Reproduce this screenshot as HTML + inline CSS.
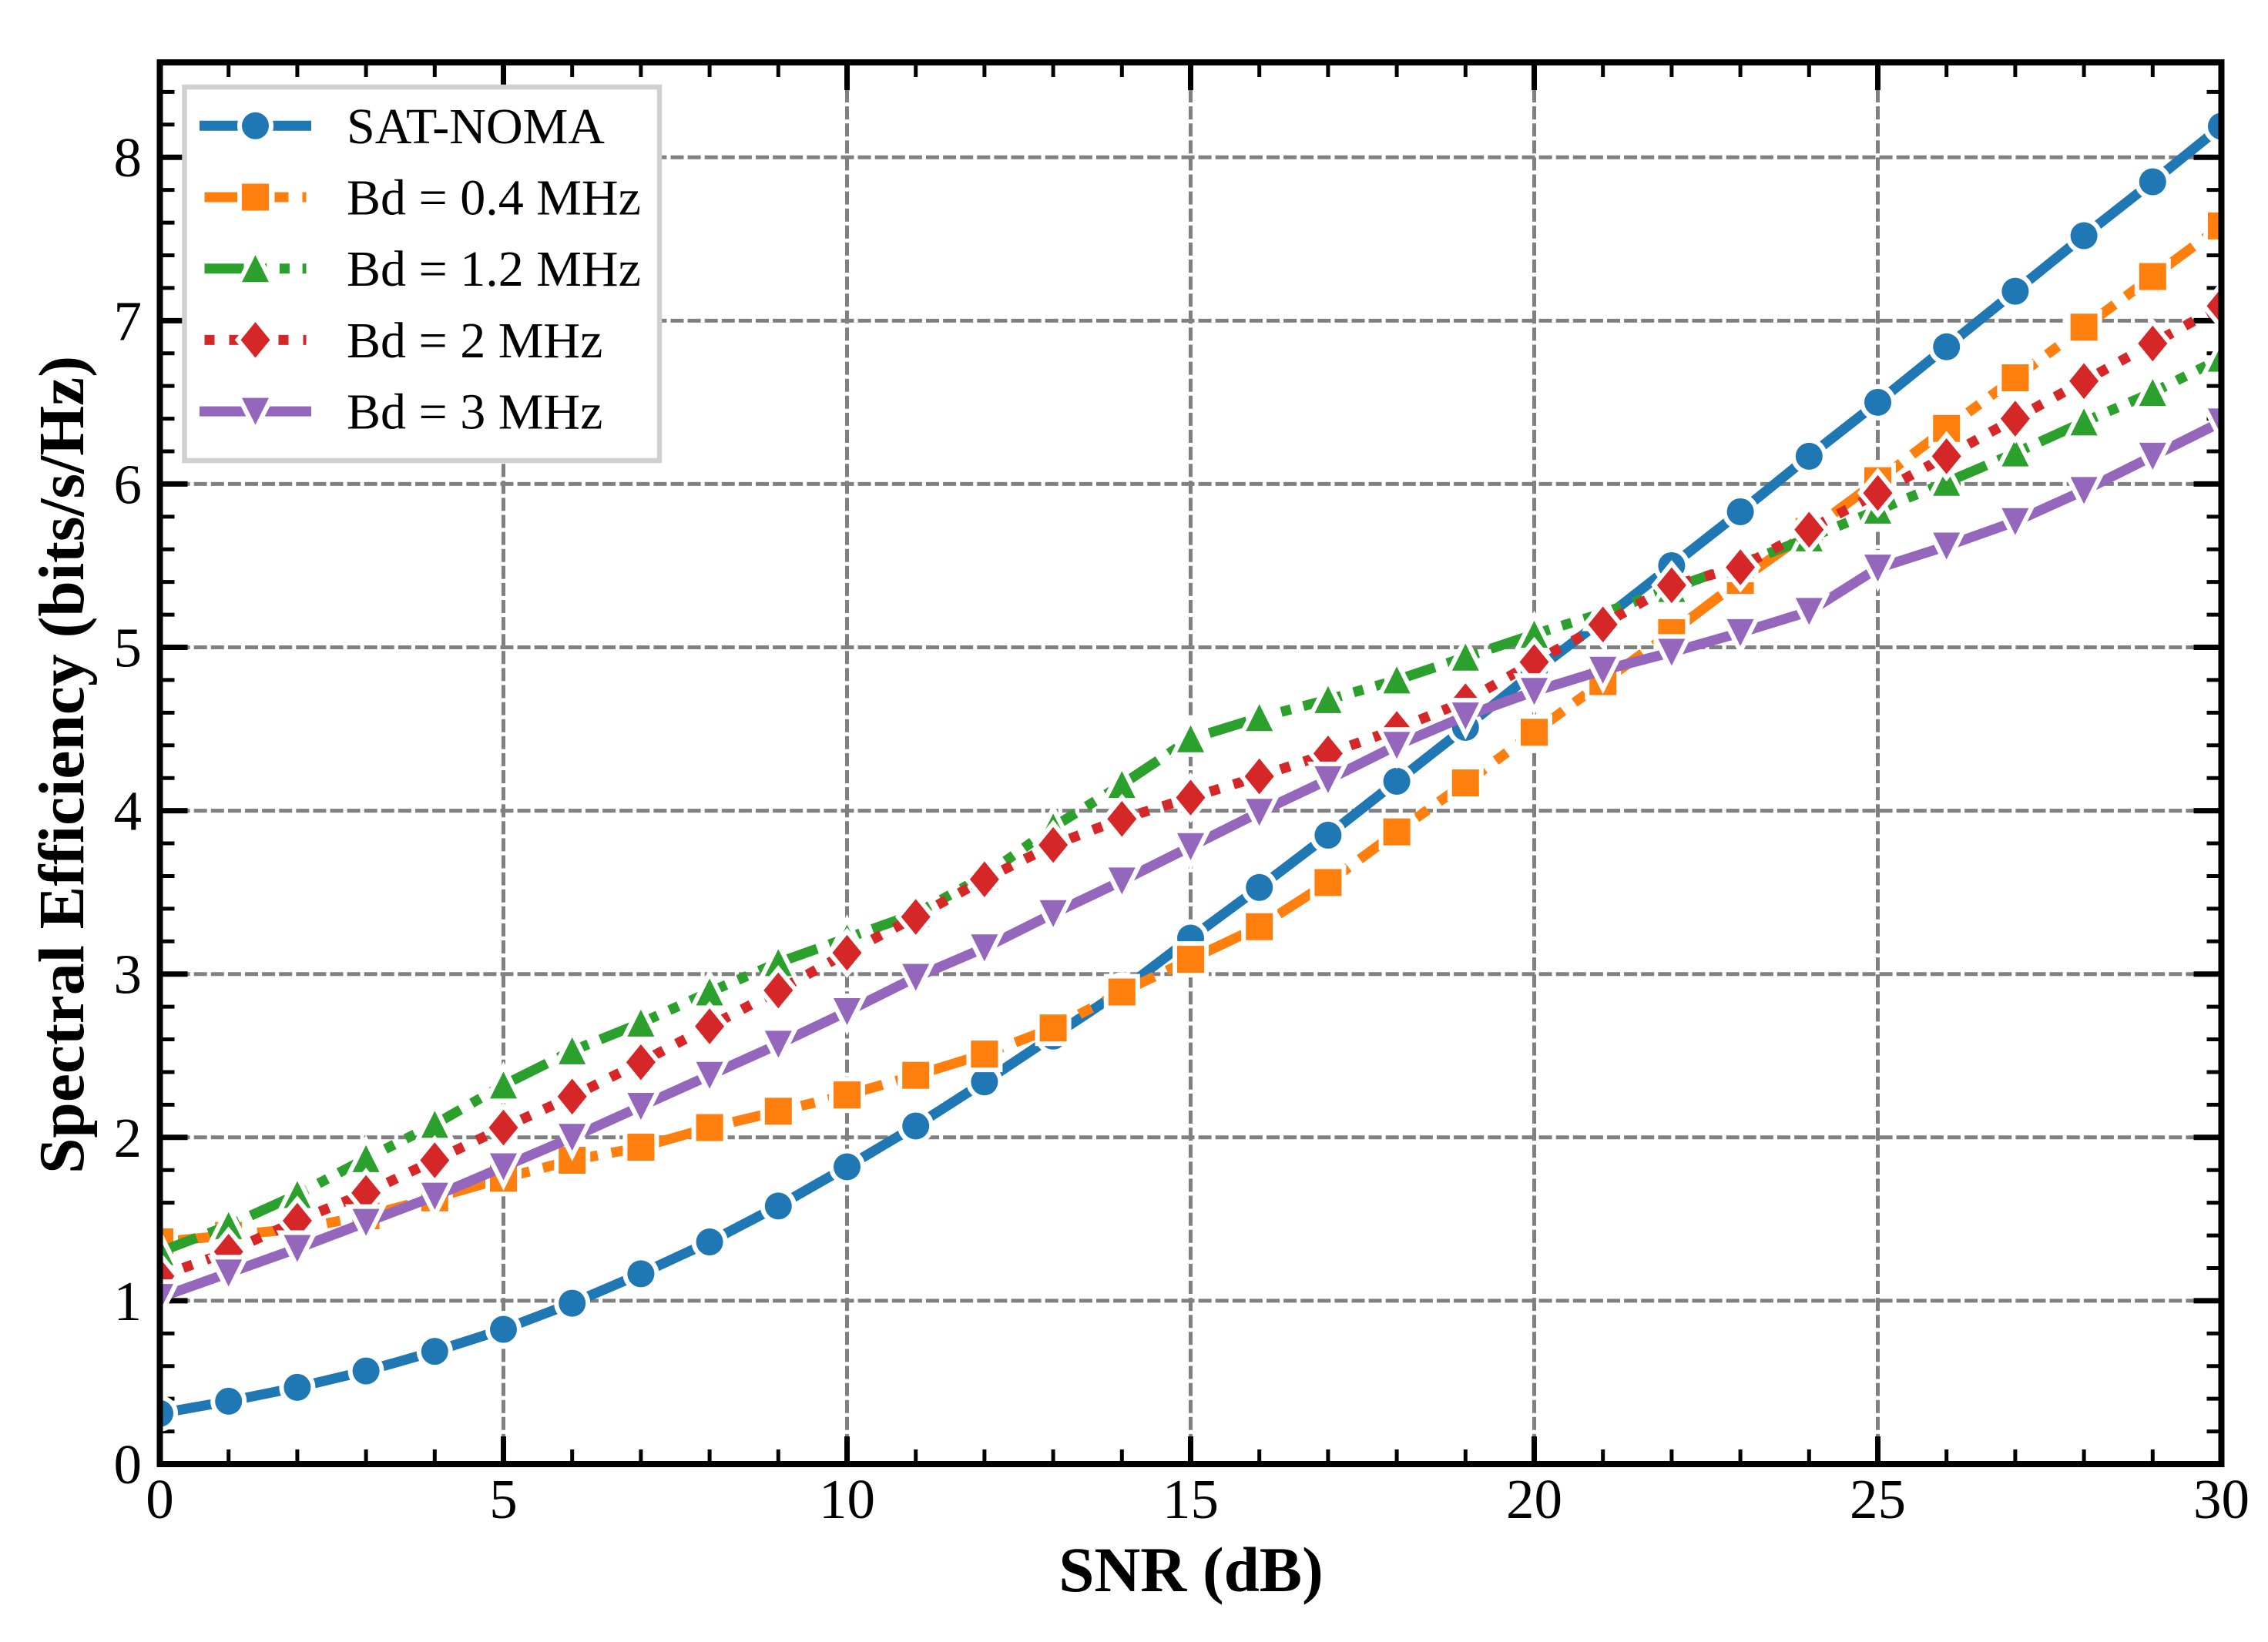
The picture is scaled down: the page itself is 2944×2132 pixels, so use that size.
<!DOCTYPE html>
<html lang="en">
<head>
<meta charset="utf-8">
<title>Spectral Efficiency vs SNR</title>
<style>
  html, body { margin: 0; padding: 0; background: #fff; }
  svg { display: block; font-family: "Liberation Serif", "Times New Roman", serif; }
</style>
</head>
<body>
<svg id="chart" xmlns="http://www.w3.org/2000/svg" width="2944" height="2132" viewBox="0 0 2944 2132"></svg>
<script>
const snrValues = [0,1,2,3,4,5,6,7,8,9,10,11,12,13,14,15,16,17,18,19,20,21,22,23,24,25,26,27,28,29,30];
const satNoma = [0.31,0.385,0.47,0.57,0.69,0.825,0.985,1.165,1.36,1.58,1.82,2.07,2.34,2.62,2.90,3.22,3.53,3.85,4.18,4.51,4.85,5.17,5.50,5.83,6.17,6.50,6.84,7.18,7.52,7.85,8.19];
const bd04 = [1.36,1.40,1.44,1.52,1.63,1.75,1.86,1.94,2.06,2.16,2.26,2.38,2.51,2.67,2.89,3.09,3.29,3.56,3.87,4.17,4.48,4.79,5.09,5.41,5.71,6.02,6.34,6.65,6.96,7.27,7.58];
const bd12 = [1.30,1.46,1.65,1.87,2.08,2.32,2.53,2.70,2.89,3.07,3.22,3.37,3.60,3.90,4.16,4.44,4.57,4.68,4.80,4.94,5.08,5.21,5.36,5.51,5.67,5.84,6.01,6.19,6.38,6.56,6.77];
const bd2 = [1.15,1.30,1.49,1.66,1.86,2.06,2.25,2.46,2.68,2.90,3.13,3.35,3.58,3.79,3.95,4.08,4.21,4.35,4.50,4.67,4.91,5.14,5.38,5.49,5.72,5.945,6.17,6.40,6.63,6.86,7.09];
const bd3 = [1.02,1.17,1.32,1.48,1.64,1.82,2.00,2.19,2.38,2.57,2.77,2.98,3.16,3.37,3.57,3.78,3.99,4.19,4.40,4.58,4.73,4.86,4.97,5.09,5.22,5.485,5.62,5.77,5.96,6.17,6.38];
const xMajorTicks = [0,5,10,15,20,25,30];
const xMinorTicks = [1,2,3,4,6,7,8,9,11,12,13,14,16,17,18,19,21,22,23,24,26,27,28,29];
const yMajorTicks = [0,1,2,3,4,5,6,7,8];
const yMinorTicks = [0.2,0.4,0.6,0.8,1.2,1.4,1.6,1.8,2.2,2.4,2.6,2.8,3.2,3.4,3.6,3.8,4.2,4.4,4.6,4.8,5.2,5.4,5.6,5.8,6.2,6.4,6.6,6.8,7.2,7.4,7.6,7.8,8.2,8.4];
const seriesLabels = ["SAT-NOMA","Bd = 0.4 MHz","Bd = 1.2 MHz","Bd = 2 MHz","Bd = 3 MHz"];
const seriesKeys = ["sat-noma","bd-0-4-mhz","bd-1-2-mhz","bd-2-mhz","bd-3-mhz"];
const seriesValues = [satNoma, bd04, bd12, bd2, bd3];
const seriesColors = ["#1f77b4","#ff7f0e","#2ca02c","#d62728","#9467bd"];
const seriesMarkers = ["circle","square","triangle-up","diamond","triangle-down"];
const seriesDashes = ["", "73 18 18 18", "51 16.7 13 16.7 13 16.7", "13 19", ""];

const AX = {left:207.5, right:2883.5, top:81, bottom:1901, xMax:30, yMax:8.581};
function sx(v){ return AX.left + v/AX.xMax*(AX.right-AX.left); }
function sy(v){ return AX.bottom - v/AX.yMax*(AX.bottom-AX.top); }

const NS = "http://www.w3.org/2000/svg";
const root = document.getElementById("chart");
function mk(tag, attrs, parent){
  const e = document.createElementNS(NS, tag);
  for (const k in attrs) e.setAttribute(k, attrs[k]);
  (parent||root).appendChild(e);
  return e;
}

const defs = mk("defs", {});
const clip = mk("clipPath", {id:"axes-clip"}, defs);
mk("rect", {x:AX.left, y:AX.top, width:AX.right-AX.left, height:AX.bottom-AX.top}, clip);

const bg = mk("rect", {x:0,y:0,width:2944,height:2132,fill:"#fff"});



/* grid */
const gridG = mk("g", {stroke:"#808080","stroke-width":5,"stroke-dasharray":"17 5.1",fill:"none"});


xMajorTicks.forEach(v=>{
  const l = mk("line",{x1:sx(v),y1:AX.bottom,x2:sx(v),y2:AX.top},gridG);
  
  
});
yMajorTicks.forEach(v=>{
  const l = mk("line",{x1:AX.left,y1:sy(v),x2:AX.right,y2:sy(v)},gridG);
  
  
});

/* ticks: inward on all four sides */
const tickG = mk("g",{stroke:"#000",fill:"none"});


function xTick(v,len,w,name){
  const a = mk("line",{x1:sx(v),y1:AX.bottom,x2:sx(v),y2:AX.bottom-len,"stroke-width":w},tickG);
  
  
  const b = mk("line",{x1:sx(v),y1:AX.top,x2:sx(v),y2:AX.top+len,"stroke-width":w},tickG);
  
  
}
function yTick(v,len,w,name){
  const a = mk("line",{x1:AX.left,y1:sy(v),x2:AX.left+len,y2:sy(v),"stroke-width":w},tickG);
  
  
  const b = mk("line",{x1:AX.right,y1:sy(v),x2:AX.right-len,y2:sy(v),"stroke-width":w},tickG);
  
  
}
xMajorTicks.forEach(v=>xTick(v,36,7,"x-major-tick-"+v));
xMinorTicks.forEach(v=>xTick(v,19,5,"x-minor-tick-"+v));
yMajorTicks.forEach(v=>yTick(v,36,7,"y-major-tick-"+v));
yMinorTicks.forEach(v=>yTick(v,19,5,"y-minor-tick-"+v));

/* markers */
function drawMarker(kind,x,y,color,parent){
  const common = {fill:color,stroke:"#fff","stroke-width":12,"paint-order":"stroke","stroke-linejoin":"miter","stroke-miterlimit":6};
  const a = 17.5, d = 19.4;
  let e;
  if (kind==="circle") e = mk("circle",Object.assign({cx:x,cy:y,r:a},common),parent);
  else if (kind==="square") e = mk("rect",Object.assign({x:x-a,y:y-a,width:2*a,height:2*a},common),parent);
  else {
    let pts;
    if (kind==="triangle-up") pts = [[x,y-a],[x-a,y+a],[x+a,y+a]];
    else if (kind==="triangle-down") pts = [[x,y+a],[x-a,y-a],[x+a,y-a]];
    else pts = [[x,y-d*1.2],[x+d*0.98,y],[x,y+d*1.2],[x-d*0.98,y]];
    e = mk("polygon",Object.assign({points:pts.map(p=>p.join(",")).join(" ")},common),parent);
  }
  return e;
}
function lineAttrs(i){
  const at = {fill:"none",stroke:seriesColors[i],"stroke-width":13,"stroke-linejoin":"round"};
  if (seriesDashes[i]) { at["stroke-dasharray"] = seriesDashes[i]; at["stroke-linecap"] = "butt"; }
  else at["stroke-linecap"] = "square";
  return at;
}

/* series */
const plotG = mk("g",{"clip-path":"url(#axes-clip)"});


seriesValues.forEach((vals,i)=>{
  const g = mk("g",{},plotG);
  
  
  const pts = vals.map((v,j)=>sx(snrValues[j]).toFixed(2)+","+sy(v).toFixed(2)).join(" ");
  const pl = mk("polyline",Object.assign({points:pts},lineAttrs(i)),g);
  
  
  vals.forEach((v,j)=>{
    const m = drawMarker(seriesMarkers[i],sx(snrValues[j]),sy(v),seriesColors[i],g);
    
    
  });
});

/* spines */
const spines = mk("rect",{x:AX.left,y:AX.top,width:AX.right-AX.left,height:AX.bottom-AX.top,fill:"none",stroke:"#000","stroke-width":8,"stroke-linejoin":"miter"});



/* tick labels */
xMajorTicks.forEach(v=>{
  const t = mk("text",{x:sx(v),y:1971,"text-anchor":"middle","font-size":73,fill:"#000"});
  t.textContent = String(v);
  
  
});
yMajorTicks.forEach(v=>{
  const t = mk("text",{x:184,y:sy(v)+25,"text-anchor":"end","font-size":73,fill:"#000"});
  t.textContent = String(v);
  
  
});

/* axis titles */
const xTitle = mk("text",{x:1546,y:2066,"text-anchor":"middle","font-size":83,"font-weight":"bold",fill:"#000"});
xTitle.textContent = "SNR (dB)";


const yTitle = mk("text",{x:0,y:0,"text-anchor":"middle","font-size":83.5,"font-weight":"bold",fill:"#000",transform:"translate(108,993) rotate(-90)"});
yTitle.textContent = "Spectral Efficiency (bits/s/Hz)";



/* legend */
const legendG = mk("g",{});


const frame = mk("rect",{x:239.5,y:113,width:616.5,height:485,fill:"#fff",stroke:"#d0d0d0","stroke-width":6.5},legendG);


seriesLabels.forEach((label,i)=>{
  const yc = 163.3 + i*92.7;
  const g = mk("g",{},legendG);
  
  
  const l = mk("line",Object.assign({x1:265.5,y1:yc,x2:397.5,y2:yc},lineAttrs(i)),g);
  
  
  const m = drawMarker(seriesMarkers[i],331.5,yc,seriesColors[i],g);
  
  
  const t = mk("text",{x:450,y:yc+22.5,"font-size":66,fill:"#000"},g);
  t.textContent = label;
  
  
});
</script>
</body>
</html>
